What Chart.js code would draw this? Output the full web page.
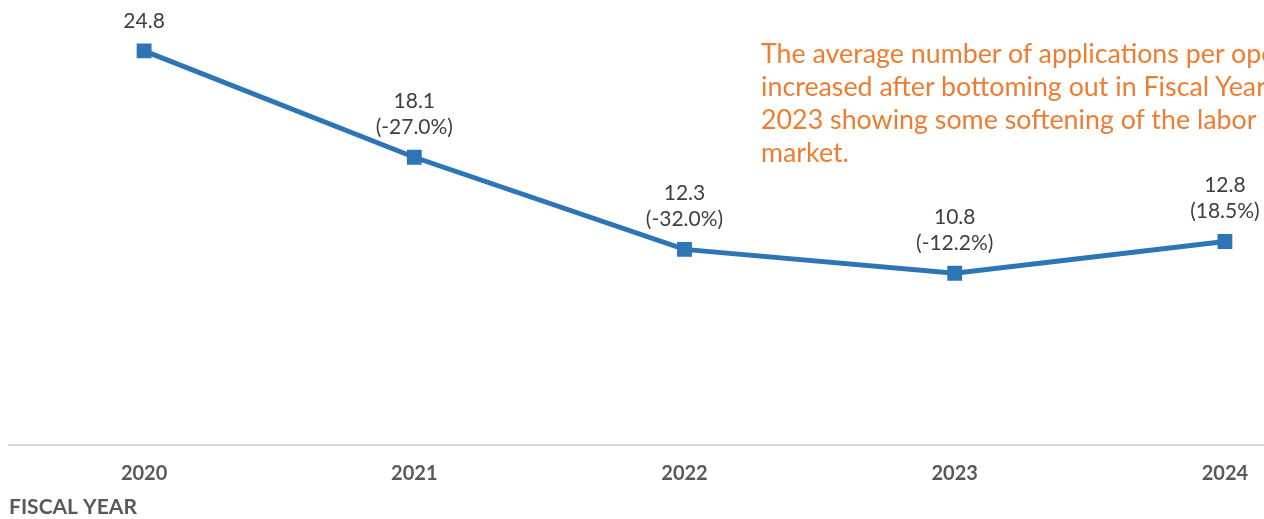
<!DOCTYPE html>
<html>
<head>
<meta charset="utf-8">
<script src="https://cdn.jsdelivr.net/npm/chart.js@4.4.1/dist/chart.umd.min.js"></script>
<style>
  html, body { margin: 0; padding: 0; background: #fff; overflow: hidden; }
  #wrap { position: relative; width: 1362px; height: 519px; }
  #note {
    position: absolute; left: 761px; top: 37px;
    font-family: Lato, sans-serif; font-size: 26.8px; line-height: 33px;
    color: #ED7D31; white-space: nowrap;
  }
</style>
</head>
<body>
<div id="wrap">
  <canvas id="chart"></canvas>
  <div id="note">The average number of applications per opening<br>increased after bottoming out in Fiscal Year<br>2023 showing some softening of the labor<br>market.</div>
</div>
<script>
const years = ["2020", "2021", "2022", "2023", "2024"];
const avgApps = [24.8, 18.1, 12.3, 10.8, 12.8];
const yoyChange = [null, "-27.0%", "-32.0%", "-12.2%", "18.5%"];

const BLUE = "#2E75B6";

// value + year-over-year change written above each point
const pointLabels = {
  id: "pointLabels",
  afterDatasetsDraw(chart) {
    const ctx = chart.ctx;
    const meta = chart.getDatasetMeta(0);
    ctx.save();
    ctx.font = "21px Lato, sans-serif";
    ctx.fillStyle = "#404040";
    ctx.textAlign = "center";
    ctx.textBaseline = "middle";
    meta.data.forEach((pt, i) => {
      const lines = [avgApps[i].toFixed(1)];
      if (yoyChange[i]) lines.push("(" + yoyChange[i] + ")");
      lines.reverse().forEach((txt, k) => {
        ctx.fillText(txt, pt.x, pt.y - 30 - k * 26);
      });
    });
    ctx.restore();
  }
};

new Chart(document.getElementById("chart"), {
  type: "line",
  data: {
    labels: years,
    datasets: [{
      data: avgApps,
      borderColor: BLUE,
      borderWidth: 5,
      backgroundColor: BLUE,
      pointStyle: "rect",
      pointRadius: 10.5,
      pointBorderWidth: 0,
      tension: 0,
    }],
  },
  options: {
    responsive: true,
    maintainAspectRatio: false,
    animation: false,
    layout: { autoPadding: false, padding: { left: 9, right: 2, top: 0, bottom: -2 } },
    plugins: { legend: { display: false }, tooltip: { enabled: false } },
    scales: {
      x: {
        offset: true,
        grid: { display: false, drawTicks: false },
        border: { display: true, color: "#D9D9D9", width: 2 },
        ticks: {
          padding: 17,
          color: "#595959",
          font: { family: "Lato, sans-serif", size: 20, weight: "bold" },
        },
        title: {
          display: true,
          text: "FISCAL YEAR",
          align: "start",
          color: "#595959",
          padding: { top: -8, bottom: 1 },
          font: { family: "Lato, sans-serif", size: 21, weight: "bold" },
        },
      },
      y: {
        display: false,
        min: 0,
        max: 28,
      },
    },
  },
  plugins: [pointLabels],
});
</script>
</body>
</html>
